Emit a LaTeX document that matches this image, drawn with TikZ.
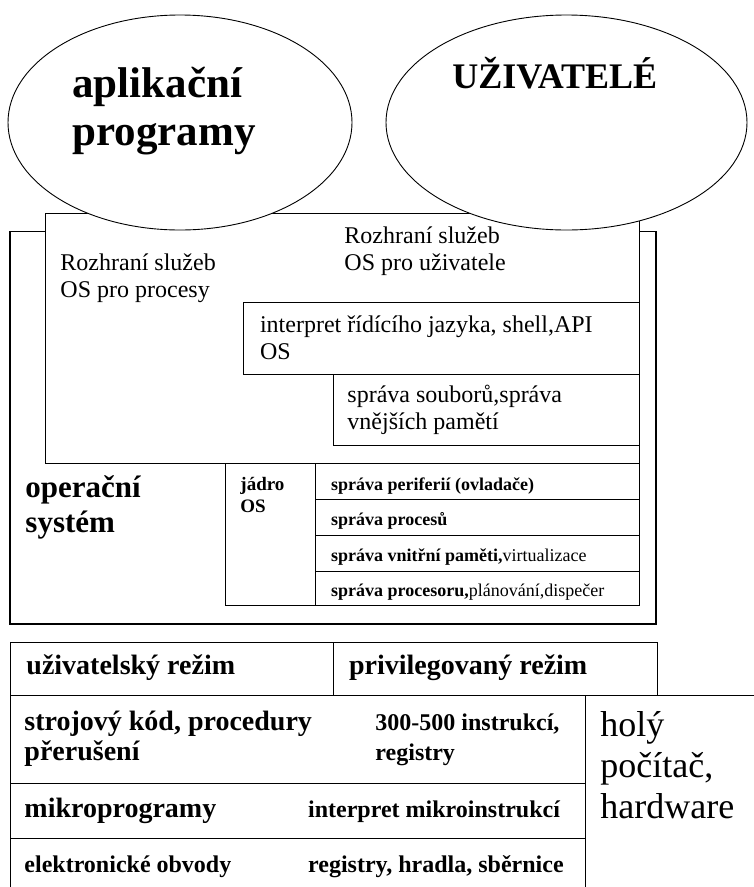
\documentclass[tikz,border=0pt]{standalone}
\usepackage{fontspec}
\setmainfont{Liberation Serif}
\usetikzlibrary{shapes.geometric}

\begin{document}
\begin{tikzpicture}[x=1pt,y=-1pt,line width=0.9pt,
  oval/.style={draw,ellipse,fill=white,inner sep=0pt},
  frame/.style={draw,fill=white},
  txt/.style={anchor=base west,inner sep=0pt,align=left},
  hugebf/.style={txt,font=\fontsize{43}{48}\selectfont\bfseries},
  titlebf/.style={txt,font=\fontsize{36}{41}\selectfont\bfseries},
  osbf/.style={txt,font=\fontsize{31}{35}\selectfont\bfseries},
  plain/.style={txt,font=\fontsize{24}{27}\selectfont},
  hw/.style={txt,font=\fontsize{36}{41}\selectfont},
  kernel/.style={txt,font=\fontsize{19}{22}\selectfont\bfseries},
  row/.style={txt,font=\fontsize{18}{21}\selectfont},
  modebf/.style={txt,font=\fontsize{28}{30}\selectfont\bfseries},
  smallbf/.style={txt,font=\fontsize{24}{30}\selectfont\bfseries}]
\useasboundingbox (0,0) rectangle (754,887);

% operating system frame and its layers
\draw[frame,line width=1.2pt] (10,231.5) rectangle (656,624);
\draw[frame] (45.7,213) rectangle (639,463);
\draw[frame] (243,302.7) rectangle (639,374);
\draw[frame] (333,374) rectangle (639,445);
\draw[frame] (225.7,463) rectangle (315,605.7);
\foreach \top/\bot in {463/499,499/535,535/571,571/605.7}
  \draw[frame] (315,\top) rectangle (639,\bot);

% ovals on top (base west = last line)
\node[oval,minimum width=344pt,minimum height=215pt] (apps) at (180,122.5) {};
\node[oval,minimum width=361pt,minimum height=215pt] (users) at (566.5,122.5) {};
\node[hugebf] (appstxt) at (72,145) {aplikační\\programy};
\node[titlebf] (userstxt) at (452,88) {UŽIVATELÉ};

% interfaces
\node[plain] (ifusr) at (344,270) {Rozhraní služeb\\OS pro uživatele};
\node[plain] (ifproc) at (60,297) {Rozhraní služeb\\OS pro procesy};
\node[plain] (shell) at (259.6,359) {interpret řídícího jazyka, shell,API\\OS};
\node[plain] (files) at (347,429) {správa souborů,správa\\vnějších pamětí};

% kernel
\node[osbf] (os) at (25,532) {operační\\systém};
\node[kernel] (core) at (240,512) {jádro\\OS};
\node[row] (dev) at (330.7,490) {\bfseries správa periferií (ovladače)};
\node[row] (proc) at (330.7,525) {\bfseries správa procesů};
\node[row] (mem) at (330.7,561) {{\bfseries správa vnitřní paměti,}virtualizace};
\node[row] (cpu) at (330.7,596) {{\bfseries správa procesoru,}plánování,dispečer};

% hardware table
\draw (10,642) rectangle (333,695);
\draw (333,642) rectangle (657,695);
\draw (10,695) -- (754,695);
\draw (10,695) -- (10,887);
\draw (585,695) -- (585,887);
\draw (10,783) -- (585,783);
\draw (10,838) -- (585,838);

\node[modebf] (usermode) at (26,674) {uživatelský režim};
\node[modebf] (privmode) at (348.6,674) {privilegovaný režim};
\node[modebf] (mcode) at (24,760) {strojový kód, procedury\\přerušení};
\node[smallbf] (isa) at (375,760) {300-500 instrukcí,\\registry};
\node[modebf] (micro) at (24,817) {mikroprogramy};
\node[smallbf] (microint) at (307.7,817) {interpret mikroinstrukcí};
\node[smallbf] (circ) at (24,872) {elektronické obvody};
\node[smallbf] (gates) at (307.7,872) {registry, hradla, sběrnice};
\node[hw] (bare) at (600,818) {holý\\počítač,\\hardware};
\end{tikzpicture}
\end{document}
